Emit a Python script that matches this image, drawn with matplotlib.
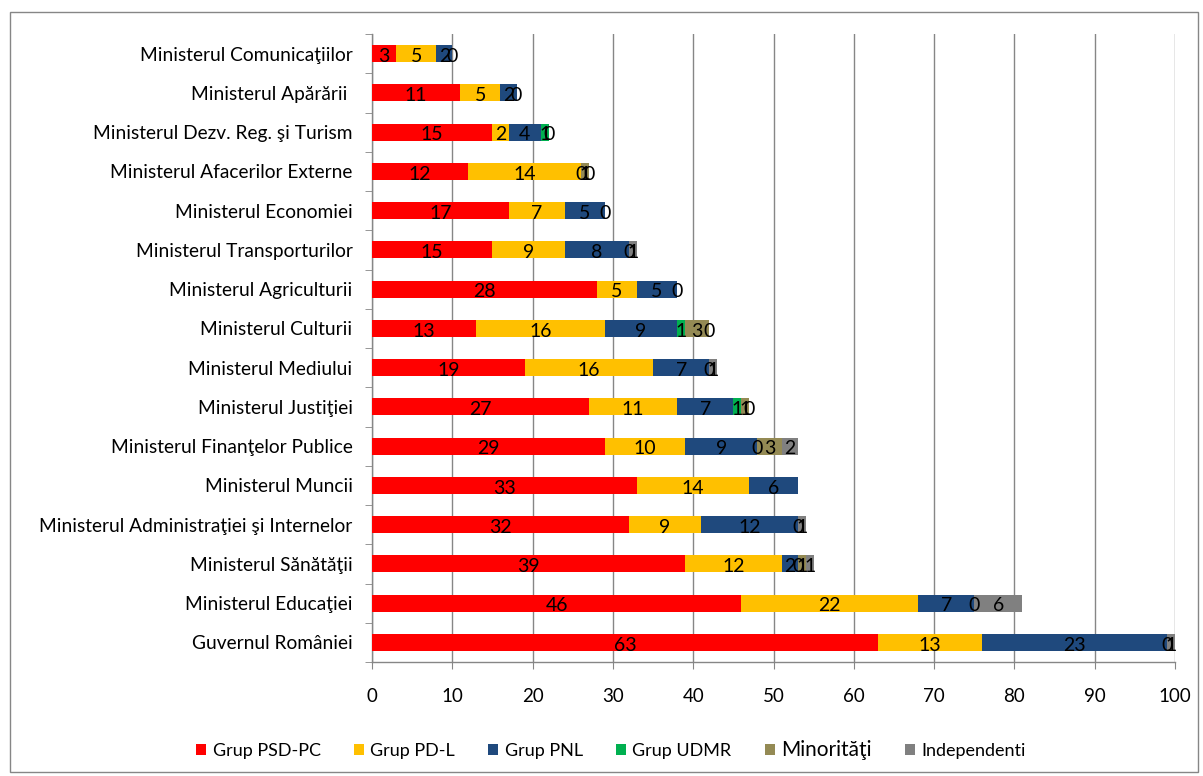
import numpy as np
import matplotlib.pyplot as plt
from matplotlib.patches import Rectangle, Patch

plt.rcParams['font.family'] = ['Lato', 'DejaVu Sans']

categories = ['Ministerul Comunicaţiilor', 'Ministerul Apărării ', 'Ministerul Dezv. Reg. şi Turism',
              'Ministerul Afacerilor Externe', 'Ministerul Economiei', 'Ministerul Transporturilor',
              'Ministerul Agriculturii', 'Ministerul Culturii', 'Ministerul Mediului',
              'Ministerul Justiţiei', 'Ministerul Finanţelor Publice', 'Ministerul Muncii',
              'Ministerul Administraţiei şi Internelor', 'Ministerul Sănătăţii',
              'Ministerul Educaţiei', 'Guvernul României']

nan = np.nan
psd = [3, 11, 15, 12, 17, 15, 28, 13, 19, 27, 29, 33, 32, 39, 46, 63]
pdl = [5, 5, 2, 14, 7, 9, 5, 16, 16, 11, 10, 14, 9, 12, 22, 13]
pnl = [2, 2, 4, 0, 5, 8, 5, 9, 7, 7, 9, 6, 12, 2, 7, 23]
udmr = [0, 0, 1, nan, 0, 0, 0, 1, 0, 1, 0, nan, 0, 0, 0, 0]
minor = [nan, nan, 0, 1, nan, nan, nan, 3, nan, 1, 3, nan, nan, 1, nan, nan]
indep = [nan, nan, nan, 0, nan, 1, nan, 0, 1, 0, 2, nan, 1, 1, 6, 1]

series = [('Grup PSD-PC', psd, '#FF0000'),
          ('Grup PD-L', pdl, '#FFC000'),
          ('Grup PNL', pnl, '#1F497D'),
          ('Grup UDMR', udmr, '#00B050'),
          ('Minorităţi', minor, '#948A54'),
          ('Independenti', indep, '#808080')]

fig = plt.figure(figsize=(12.03, 7.76), dpi=100)
ax = fig.add_axes([372/1203, 1-662/776, (1175-372)/1203, (662-34)/776])

y = np.arange(len(categories))
left = np.zeros(len(categories))
for name, vals, col in series:
    v = np.array(vals, dtype=float)
    w = np.nan_to_num(v)
    ax.barh(y, w, left=left, height=0.43, color=col, zorder=3)
    for i in range(len(v)):
        if not np.isnan(v[i]):
            ax.text(left[i] + w[i]/2, y[i] + 0.07, '%d' % v[i], ha='center', va='center',
                    fontsize=14, color='black', zorder=4)
    left += w

ax.set_xlim(0, 100)
ax.set_ylim(len(categories) - 0.5, -0.5)
ax.set_xticks(np.arange(0, 101, 10))
ax.set_yticks(y)
ax.set_yticklabels(categories, fontsize=13.8)
ax.set_yticks(np.arange(-0.5, len(categories), 1), minor=True)
ax.tick_params(axis='y', which='major', length=0, pad=14)
ax.tick_params(axis='y', which='minor', length=5, direction='out', color='#868686')
ax.tick_params(axis='x', length=5, direction='out', color='#868686', labelsize=13.5, pad=14)
ax.grid(axis='x', color='#868686', linewidth=1, zorder=0)
for s in ['top', 'right']:
    ax.spines[s].set_visible(False)
for s in ['left', 'bottom']:
    ax.spines[s].set_color('#868686')
    ax.spines[s].set_linewidth(1)

handles = [Patch(facecolor=c, label=n) for n, v, c in series]
leg = fig.legend(handles=handles, loc='center', bbox_to_anchor=(611/1203, 1-750/776), ncol=6,
                 frameon=False, fontsize=13, handlelength=0.55, handleheight=0.55,
                 handletextpad=0.35, columnspacing=1.85)
# the Minoritati entry is drawn a little larger in the original
leg.get_texts()[4].set_fontsize(15)

fig.patches.append(Rectangle((10/1203, 1-772/776), 1188/1203, 760/776, transform=fig.transFigure,
                             fill=False, edgecolor='#868686', linewidth=1))

fig.savefig('out.png', dpi=100)
